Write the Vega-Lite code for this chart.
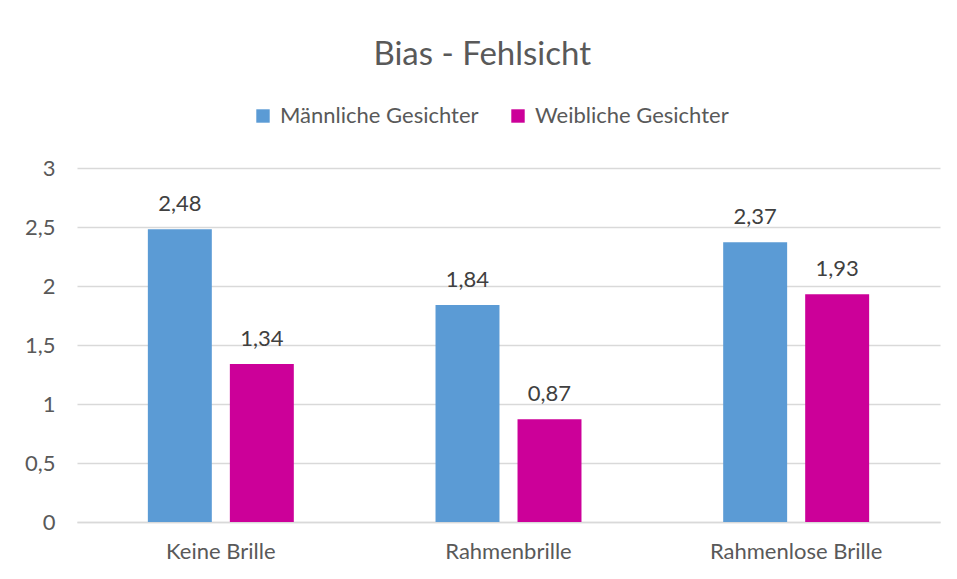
{
  "$schema": "https://vega.github.io/schema/vega-lite/v6.json",
  "autosize": "none",
  "width": 863,
  "height": 354,
  "padding": {"left": 77, "top": 168, "right": 17, "bottom": 57},
  "background": "white",
  "title": {
    "text": "Bias - Fehlsicht",
    "font": "Lato",
    "fontSize": 33,
    "fontWeight": "normal",
    "color": "#595959",
    "anchor": "middle",
    "frame": "bounds",
    "offset": 33
  },
  "data": {
    "values": [
      {"kategorie": "Keine Brille", "gruppe": "Männliche Gesichter", "wert": 2.48},
      {"kategorie": "Keine Brille", "gruppe": "Weibliche Gesichter", "wert": 1.34},
      {"kategorie": "Rahmenbrille", "gruppe": "Männliche Gesichter", "wert": 1.84},
      {"kategorie": "Rahmenbrille", "gruppe": "Weibliche Gesichter", "wert": 0.87},
      {"kategorie": "Rahmenlose Brille", "gruppe": "Männliche Gesichter", "wert": 2.37},
      {"kategorie": "Rahmenlose Brille", "gruppe": "Weibliche Gesichter", "wert": 1.93}
    ]
  },
  "encoding": {
    "x": {
      "field": "kategorie",
      "type": "nominal",
      "sort": ["Keine Brille", "Rahmenbrille", "Rahmenlose Brille"],
      "scale": {"paddingInner": 0, "paddingOuter": 0},
      "axis": {
        "title": null,
        "labelAngle": 0,
        "labelFont": "Lato",
        "labelFontSize": 22,
        "labelColor": "#595959",
        "labelPadding": 19,
        "ticks": false,
        "domainColor": "#d9d9d9",
        "domainWidth": 1.5
      }
    },
    "xOffset": {
      "field": "gruppe",
      "type": "nominal",
      "scale": {"paddingInner": 0.22, "paddingOuter": 0.864}
    },
    "y": {
      "field": "wert",
      "type": "quantitative",
      "scale": {"domain": [0, 3], "nice": false},
      "axis": {
        "title": null,
        "values": [0, 0.5, 1, 1.5, 2, 2.5, 3],
        "labelExpr": "replace(format(datum.value, '.1~f'), '.', ',')",
        "labelFont": "Lato",
        "labelFontSize": 22,
        "labelColor": "#595959",
        "labelPadding": 22,
        "ticks": false,
        "domain": false,
        "gridColor": "#d9d9d9",
        "gridWidth": 1.5
      }
    }
  },
  "layer": [
    {
      "mark": {"type": "bar"},
      "encoding": {
        "color": {
          "field": "gruppe",
          "type": "nominal",
          "scale": {
            "domain": ["Männliche Gesichter", "Weibliche Gesichter"],
            "range": ["#5b9bd5", "#cc0099"]
          },
          "legend": {
            "title": null,
            "orient": "none",
            "direction": "horizontal",
            "legendX": 175,
            "legendY": -63,
            "symbolType": "square",
            "symbolSize": 180,
            "symbolStrokeWidth": 0,
            "labelFont": "Lato",
            "labelFontSize": 22,
            "labelColor": "#595959",
            "labelLimit": 400,
            "columnPadding": 28,
            "labelOffset": 6
          }
        }
      }
    },
    {
      "mark": {
        "type": "text",
        "baseline": "bottom",
        "dy": -13,
        "font": "Lato",
        "fontSize": 22,
        "color": "#404040"
      },
      "encoding": {
        "text": {"field": "wert", "type": "quantitative", "format": ".2f"}
      }
    }
  ],
  "config": {
    "view": {"stroke": null},
    "locale": {
      "number": {"decimal": ",", "thousands": ".", "grouping": [3], "currency": ["", " €"]}
    }
  }
}
